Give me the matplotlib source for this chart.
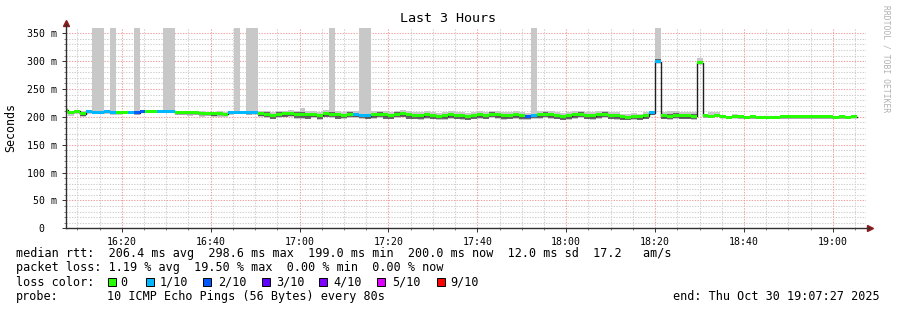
import numpy as np
import pandas as pd
import matplotlib
matplotlib.use("Agg")
import matplotlib.pyplot as plt
import matplotlib.dates as mdates
from matplotlib.patches import Rectangle

plt.rcParams['font.family'] = ['DejaVu Sans Mono']

# SmokePing data: one sample every 80 s, first sample 16:06:40
start_time = '2025-10-30 16:06:40'
n_samples = 134

median_ms = [
    212,
    208, 210.5, 206, 210.5, 208, 208, 210, 208, 208, 208,
    208, 207, 210, 210, 210, 210, 210, 210, 207, 207,
    207, 207, 206, 206, 206, 206, 205, 208, 208, 208,
    207, 207, 206, 205, 203, 205, 206, 206, 205, 204,
    204, 204, 203, 206, 205, 204, 203, 205, 204, 203,
    202, 204, 205, 204, 203, 205, 206, 204, 203, 202,
    204, 203, 201, 202, 204, 203, 202, 201, 203, 204,
    203, 205, 204, 202, 203, 204, 202, 201, 203, 204,
    205, 204, 203, 201, 202, 204, 205, 203, 202, 204,
    205, 203, 202, 200, 199, 201, 200, 202, 207, 298.6,
    202, 201, 203, 202, 202, 201, 297, 202, 201, 203,
    200, 199, 200, 200, 199, 200, 199, 199, 199, 199,
    200, 200, 200, 200, 200, 200, 200, 200, 200, 199,
    200, 199, 200,
]

loss_count = [
    0,
    0, 0, 0, 1, 1, 1, 1, 1, 0, 0,
    1, 2, 2, 0, 0, 1, 1, 1, 0, 0,
    0, 0, 0, 0, 0, 0, 0, 1, 1, 1,
    1, 1, 0, 0, 0, 0, 0, 0, 0, 0,
    0, 0, 0, 0, 0, 0, 0, 0, 1, 1,
    1, 0, 0, 0, 0, 0, 0, 0, 0, 0,
    0, 0, 0, 0, 0, 0, 0, 0, 0, 0,
    0, 0, 0, 0, 0, 0, 0, 2, 1, 0,
    0, 0, 0, 0, 0, 0, 0, 0, 0, 0,
    0, 0, 0, 0, 0, 0, 0, 0, 1, 1,
    0, 0, 0, 0, 0, 0, 0, 0, 0, 0,
    0, 0, 0, 0, 0, 0, 0, 0, 0, 0,
    0, 0, 0, 0, 0, 0, 0, 0, 0, 0,
    0, 0, 0,
]

# outer (light) smoke: slowest and fastest ping of each round
rtt_max = [
    216,
    211, 213, 210, 213, 400, 400, 213, 400, 211, 210,
    211, 400, 212, 212, 212, 212, 400, 400, 210, 210,
    210, 210, 210, 209, 209, 210, 209, 211, 400, 210,
    400, 400, 211, 210, 209, 210, 211, 212, 210, 216,
    210, 210, 208, 212, 400, 210, 209, 211, 210, 400,
    400, 210, 211, 210, 209, 211, 212, 210, 209, 208,
    210, 209, 207, 208, 210, 209, 209, 207, 209, 210,
    209, 211, 210, 208, 209, 210, 208, 207, 400, 210,
    211, 210, 209, 207, 208, 210, 211, 209, 208, 210,
    211, 209, 208, 206, 205, 207, 206, 208, 211, 400,
    209, 210, 210, 209, 209, 208, 305, 204, 209, 209,
    202, 201, 206, 201, 201, 200, 200, 200, 200, 200,
    203, 200, 200, 200, 200, 201, 202, 200, 201, 200,
    200, 200, 201,
]

rtt_min = [
    205,
    201, 205, 200, 206, 206, 206, 206, 203, 204, 205,
    205, 204, 207, 207, 207, 207, 208, 208, 203, 204,
    202, 203, 200, 201, 200, 200, 199, 204, 206, 205,
    204, 205, 200, 198, 196, 198, 199, 200, 197, 197,
    196, 198, 195, 199, 198, 196, 197, 198, 198, 197,
    196, 197, 198, 196, 196, 198, 199, 196, 196, 195,
    197, 196, 195, 195, 197, 196, 195, 194, 196, 197,
    196, 198, 197, 195, 196, 197, 195, 195, 197, 197,
    198, 197, 196, 194, 195, 197, 198, 196, 195, 197,
    198, 196, 195, 194, 194, 195, 194, 196, 203, 296,
    196, 195, 197, 196, 196, 195, 295, 198, 198, 199,
    198, 197, 198, 197, 197, 197, 197, 197, 197, 197,
    197, 197, 197, 197, 197, 197, 197, 197, 197, 197,
    197, 197, 198,
]

# inner (dark) smoke
smoke_lo = [
    208,
    207, 207, 202, 208, 207, 207, 208, 206, 207, 207,
    207, 206, 208, 208, 208, 208, 208, 208, 206, 206,
    205, 205, 203, 204, 202, 203, 201, 206, 207, 207,
    206, 206, 201, 199, 197, 199, 200, 201, 198, 198,
    197, 199, 196, 200, 199, 197, 198, 199, 199, 198,
    197, 198, 199, 197, 197, 199, 200, 197, 197, 196,
    198, 197, 196, 196, 198, 197, 196, 195, 197, 198,
    197, 199, 198, 196, 197, 198, 196, 196, 198, 198,
    199, 198, 197, 195, 196, 198, 199, 197, 196, 198,
    199, 197, 196, 195, 195, 196, 195, 197, 203, 298,
    197, 196, 198, 197, 197, 196, 296, 199, 199, 200,
    199, 198, 199, 199, 198, 199, 198, 198, 198, 198,
    199, 199, 199, 199, 199, 199, 199, 199, 199, 198,
    199, 198, 199,
]

smoke_hi = [
    214,
    209, 211, 207, 211, 209, 209, 211, 209, 209, 209,
    209, 208, 211, 211, 211, 211, 211, 211, 208, 208,
    208, 208, 207, 207, 207, 207, 206, 209, 209, 209,
    208, 208, 209, 208, 206, 208, 209, 209, 208, 209,
    207, 207, 206, 209, 208, 207, 206, 208, 207, 206,
    205, 207, 208, 207, 206, 208, 209, 207, 206, 205,
    207, 206, 204, 205, 207, 206, 205, 204, 206, 207,
    206, 208, 207, 205, 206, 207, 205, 204, 206, 207,
    208, 207, 206, 204, 205, 207, 208, 206, 205, 207,
    208, 206, 205, 203, 202, 204, 203, 205, 210, 303,
    206, 205, 207, 206, 206, 205, 300, 203, 203, 205,
    201, 200, 201, 201, 200, 201, 200, 200, 200, 200,
    201, 200, 200, 200, 200, 201, 201, 200, 200, 200,
    200, 200, 200,
]

loss_levels = [0, 1, 2, 3, 4, 5, 9]
loss_labels = ['0', '1/10', '2/10', '3/10', '4/10', '5/10', '9/10']
loss_hex = ['#26ff00', '#00b8ff', '#0059ff', '#5e00ff', '#7e00ff', '#dd00ff', '#ff0000']

y_ticks = [0, 50, 100, 150, 200, 250, 300, 350]
y_tick_labels = ['0  ', '50 m', '100 m', '150 m', '200 m', '250 m', '300 m', '350 m']

stats_lines = [
    'median rtt:  206.4 ms avg  298.6 ms max  199.0 ms min  200.0 ms now  12.0 ms sd  17.2   am/s',
    'packet loss: 1.19 % avg  19.50 % max  0.00 % min  0.00 % now',
]
probe_text = '10 ICMP Echo Pings (56 Bytes) every 80s'
end_text = 'end: Thu Oct 30 19:07:27 2025'

W, H = 897, 310
fig = plt.figure(figsize=(W / 100, H / 100), dpi=100)
fig.patch.set_facecolor('white')

# plot area in pixels
left, right, top, bottom = 66, 866, 27.7, 228.3
ax = fig.add_axes([left / W, (H - bottom) / H, (right - left) / W, (bottom - top) / H])

times = pd.date_range(start_time, periods=n_samples, freq='80s')
x = mdates.date2num(times)
step = 80 / 86400

t0 = mdates.date2num(pd.Timestamp('2025-10-30 16:07:27'))
t1 = mdates.date2num(pd.Timestamp('2025-10-30 19:07:27'))
ax.set_xlim(t0, t1)
ax.set_ylim(0, 360)

# grid
minor_c, major_c = '#cfcfcf', '#f2a0a0'
for v in range(10, 360, 10):
    ax.axhline(v, color=major_c if v % 50 == 0 else minor_c, lw=0.75,
               ls=(0, (1.3, 1.3)), zorder=1)
for t in pd.date_range('2025-10-30 16:10', '2025-10-30 19:05', freq='5min'):
    ax.axvline(mdates.date2num(t), color=major_c if t.minute % 20 == 0 else minor_c,
               lw=0.75, ls=(0, (1.3, 1.3)), zorder=1)

med = np.array(median_ms)
# smoke
ax.bar(x, np.array(rtt_max) - np.array(rtt_min), bottom=rtt_min, width=step,
       align='edge', color='#c8c8c8', lw=0, antialiased=False, zorder=2)
ax.bar(x, np.array(smoke_hi) - np.array(smoke_lo), bottom=smoke_lo, width=step,
       align='edge', color='#666666', lw=0, antialiased=False, zorder=3)

# median line + loss coloured band
edges = np.append(x, x[-1] + step)
ax.step(edges, np.append(med, med[-1]), where='post', color='#202020', lw=1.0, zorder=4)
colmap = dict(zip(loss_levels, loss_hex))
band = 5.4
ax.bar(x, band, bottom=med - band / 2, width=step, align='edge',
       color=[colmap[l] for l in loss_count], lw=0, antialiased=False, zorder=5)

# axes
for s in ax.spines.values():
    s.set_visible(False)
ax.plot([0, 0], [0, 1.02], transform=ax.transAxes, color='#303030', lw=1, clip_on=False, zorder=6)
ax.plot([0, 1.004], [0, 0], transform=ax.transAxes, color='#303030', lw=1, clip_on=False, zorder=6)
ax.plot([0], [1.025], marker='^', ms=4, color='#8b1c1c', transform=ax.transAxes, clip_on=False)
ax.plot([1.005], [0], marker='>', ms=4, color='#8b1c1c', transform=ax.transAxes, clip_on=False)

ax.set_yticks(y_ticks)
ax.set_yticklabels(y_tick_labels)
ax.set_yticks(range(10, 360, 10), minor=True)
xt = pd.date_range('2025-10-30 16:20', '2025-10-30 19:00', freq='20min')
ax.set_xticks(mdates.date2num(xt))
ax.set_xticklabels([t.strftime('%H:%M') for t in xt])
ax.set_xticks(mdates.date2num(pd.date_range('2025-10-30 16:10', '2025-10-30 19:05', freq='5min')), minor=True)
ax.tick_params(axis='both', which='both', labelsize=7.1, color='#303030', width=0.7)
ax.tick_params(axis='y', which='major', length=3, pad=3.2)
ax.tick_params(axis='y', which='minor', length=1.5, color='#808080')
ax.tick_params(axis='x', which='major', length=3, pad=3.5)
ax.tick_params(axis='x', which='minor', length=1.5, color='#808080')

def px(xp, yp):
    return xp / W, 1 - yp / H

fig.text(*px(448, 19), 'Last 3 Hours', fontsize=9.6, ha='center', va='center')
fig.text(*px(11, 127), 'Seconds', fontsize=8.4, rotation=90, ha='center', va='center')
fig.text(*px(886, 59), 'RRDTOOL / TOBI OETIKER', fontsize=5.8, rotation=-90,
         ha='center', va='center', color='#b0b0b0')

fs = 8.5
fig.text(*px(16, 254), stats_lines[0], fontsize=fs, va='center')
fig.text(*px(16, 268), stats_lines[1], fontsize=fs, va='center')
fig.text(*px(16, 282), 'loss color:', fontsize=fs, va='center')
box_x = [108, 146, 203, 262, 319, 377, 437]
text_x = [120, 160, 218, 276, 333, 392, 450]
for bx, tx, c, lab in zip(box_x, text_x, loss_hex, loss_labels):
    fig.patches.append(Rectangle(px(bx, 286), 8 / W, 8 / H, transform=fig.transFigure,
                                 facecolor=c, edgecolor='black', lw=0.7))
    fig.text(*px(tx, 282), lab, fontsize=fs, va='center')
fig.text(*px(16, 296.5), 'probe:', fontsize=fs, va='center')
fig.text(*px(107, 296.5), probe_text, fontsize=fs, va='center')
fig.text(*px(880, 296.5), end_text, fontsize=fs, va='center', ha='right')

fig.savefig('out.png', dpi=100)
